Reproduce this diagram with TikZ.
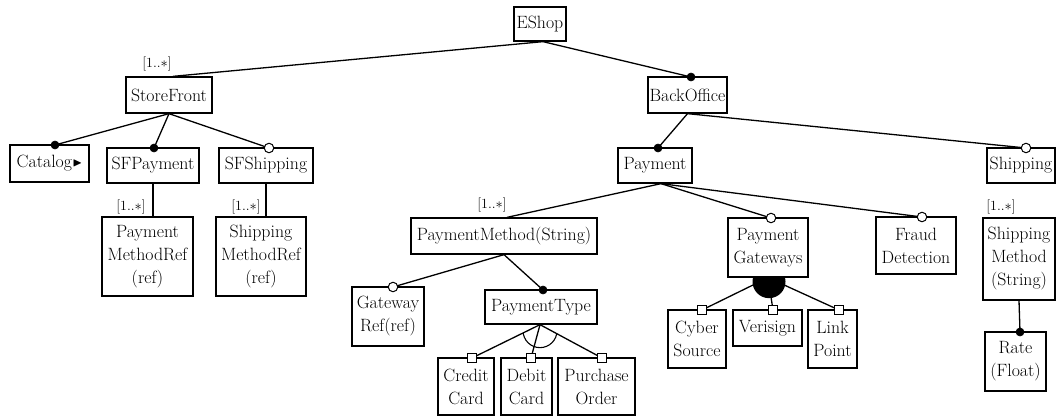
\documentclass[tikz,border=0pt]{standalone}
\usepackage{amssymb}
\usepackage{graphicx}
\usetikzlibrary{calc}
\tikzset{
  feat/.style={draw, line width=1.3pt, inner sep=0pt, align=center,
    font=\fontsize{17.8}{23}\selectfont},
  conn/.style={line width=1.3pt},
  card/.style={inner sep=0pt, font=\fontsize{14}{16}\selectfont},
  mand/.style={circle, fill=black, draw=black, line width=0.6pt, minimum size=8pt, inner sep=0pt},
  opt/.style={circle, fill=white, draw=black, line width=1pt, minimum size=9.5pt, inner sep=0pt},
  grp/.style={rectangle, fill=white, draw=black, line width=1pt, minimum size=8.5pt, inner sep=0pt},
}
\begin{document}
\begin{tikzpicture}[x=1pt, y=-1pt]
\fill[white] (0,0) rectangle (1056,417);
\useasboundingbox (0,0) rectangle (1056,417);
\clip (0,0) rectangle (1056,417);

% ---- features ----
\node[feat, minimum width=52, minimum height=34] (eshop) at (540,24) {EShop};
\node[feat, minimum width=86, minimum height=36] (sf) at (169,95) {StoreFront};
\node[feat, minimum width=79, minimum height=36] (bo) at (687.5,95) {BackOffice};

\node[feat, minimum width=79, minimum height=37] (cat) at (49.5,163.5)
  {Catalog\kern0.5pt\raisebox{1.5pt}{\scalebox{0.7}{$\blacktriangleright$}}};
\node[feat, minimum width=92, minimum height=35] (sfp) at (153,165.5) {SFPayment};
\node[feat, minimum width=94, minimum height=35] (sfs) at (266,165.5) {SFShipping};
\node[feat, minimum width=91, minimum height=79] (pmr) at (147.5,256.5) {Payment\\MethodRef\\(ref)};
\node[feat, minimum width=90, minimum height=79] (smr) at (261,256.5) {Shipping\\MethodRef\\(ref)};

\node[feat, minimum width=74, minimum height=35] (pay) at (655,165.5) {Payment};
\node[feat, minimum width=68, minimum height=35] (shp) at (1021,165.5) {Shipping};

\node[feat, minimum width=186, minimum height=36] (pm) at (504,236) {PaymentMethod(String)};
\node[feat, minimum width=72, minimum height=59] (gw) at (388,316.5) {Gateway\\Ref(ref)};
\node[feat, minimum width=112, minimum height=34] (pt) at (541,307) {PaymentType};
\node[feat, minimum width=56, minimum height=57] (cc) at (466,386.5) {Credit\\Card};
\node[feat, minimum width=51, minimum height=57] (dc) at (526.5,386.5) {Debit\\Card};
\node[feat, minimum width=77, minimum height=57] (po) at (596.5,386.5) {Purchase\\Order};

\node[feat, minimum width=80, minimum height=59] (pg) at (768,247.5) {Payment\\Gateways};
\node[feat, minimum width=80, minimum height=57] (fd) at (916,245.5) {Fraud\\Detection};
\node[feat, minimum width=58, minimum height=58] (cs) at (697,339) {Cyber\\Source};
\node[feat, minimum width=69, minimum height=36] (vs) at (767.5,328) {Verisign};
\node[feat, minimum width=49, minimum height=58] (lp) at (832.5,339) {Link\\Point};

\node[feat, minimum width=72, minimum height=82] (sm) at (1019,259) {Shipping\\Method\\(String)};
\node[feat, minimum width=61, minimum height=59] (rate) at (1015.5,361.5) {Rate\\(Float)};

% ---- cardinalities ----
\node[card] (c-sf)  at (157,64)   {[1..$\ast$]};
\node[card] (c-pmr) at (131,207)  {[1..$\ast$]};
\node[card] (c-smr) at (246,207)  {[1..$\ast$]};
\node[card] (c-pm)  at (492,205)  {[1..$\ast$]};
\node[card] (c-sm)  at (1001,207) {[1..$\ast$]};

% ---- marker positions on the children ----
\coordinate (m-cat)  at (55,145);
\coordinate (m-sfp)  at (154,148);
\coordinate (m-sfs)  at (269,148);
\coordinate (m-bo)   at (691,77);
\coordinate (m-pay)  at (658,148);
\coordinate (m-shp)  at (1026,148);
\coordinate (m-gw)   at (393,287);
\coordinate (m-pt)   at (543,290);
\coordinate (m-cc)   at (472,358);
\coordinate (m-dc)   at (531,358);
\coordinate (m-po)   at (602,358);
\coordinate (m-pg)   at (771,218);
\coordinate (m-fd)   at (922,217);
\coordinate (m-cs)   at (702,310);
\coordinate (m-vs)   at (773,310);
\coordinate (m-lp)   at (839,310);
\coordinate (m-rate) at (1020,332);

% ---- connectors ----
\coordinate (eshop-o) at ($(eshop.south)+(3,0)$);
\coordinate (pay-o)   at ($(pay.south)+(6,0)$);
\coordinate (pt-o)    at ($(pt.south)+(-1,0)$);
\draw[conn] (eshop-o) -- ($(sf.north)+(4,0)$);
\draw[conn] (eshop-o) -- (m-bo);
\draw[conn] (sf.south) -- (m-cat);
\draw[conn] (sf.south) -- (m-sfp);
\draw[conn] (sf.south) -- (m-sfs);
\draw[conn] (sfp.south) -- (sfp.south |- pmr.north);
\draw[conn] (sfs.south) -- (sfs.south |- smr.north);
\draw[conn] (bo.south) -- (m-pay);
\draw[conn] (bo.south) -- (m-shp);
\draw[conn] (pay-o) -- ($(pm.north)+(3,0)$);
\draw[conn] (pay-o) -- (m-pg);
\draw[conn] (pay-o) -- (m-fd);
\draw[conn] (pm.south) -- (m-gw);
\draw[conn] (pm.south) -- (m-pt);
\draw[conn] (pt-o) -- (m-cc);
\draw[conn] (pt-o) -- (m-dc);
\draw[conn] (pt-o) -- (m-po);
\draw[conn] (pg.south) -- (m-cs);
\draw[conn] (pg.south) -- (m-vs);
\draw[conn] (pg.south) -- (m-lp);
\draw[conn] ($(shp.south)+(2,0)$) -- ($(shp.south)+(2,0)$ |- sm.north);
\draw[conn] (sm.south) -- (m-rate);

% alternative group: open arc under PaymentType
\begin{scope}
  \clip (pt-o) -- ($(pt-o)!4!(m-cc)$) -- ($(pt-o)!4!(m-po)$) -- cycle;
  \draw[line width=1.1pt] ($(pt-o)+(0,6)$) circle (17);
\end{scope}
% or group: filled arc under Payment Gateways
\begin{scope}
  \clip (pg.south west) rectangle ($(pg.south east)+(0,40)$);
  \fill ($(pg.south)+(1,4)$) circle (16.5);
\end{scope}

% ---- markers ----
\foreach \m in {m-cat,m-sfp,m-bo,m-pay,m-pt,m-rate}
  \node[mand] at (\m) {};
\foreach \m in {m-sfs,m-shp,m-gw,m-pg,m-fd}
  \node[opt] at (\m) {};
\foreach \m in {m-cc,m-dc,m-po,m-cs,m-vs,m-lp}
  \node[grp] at (\m) {};
\end{tikzpicture}
\end{document}
